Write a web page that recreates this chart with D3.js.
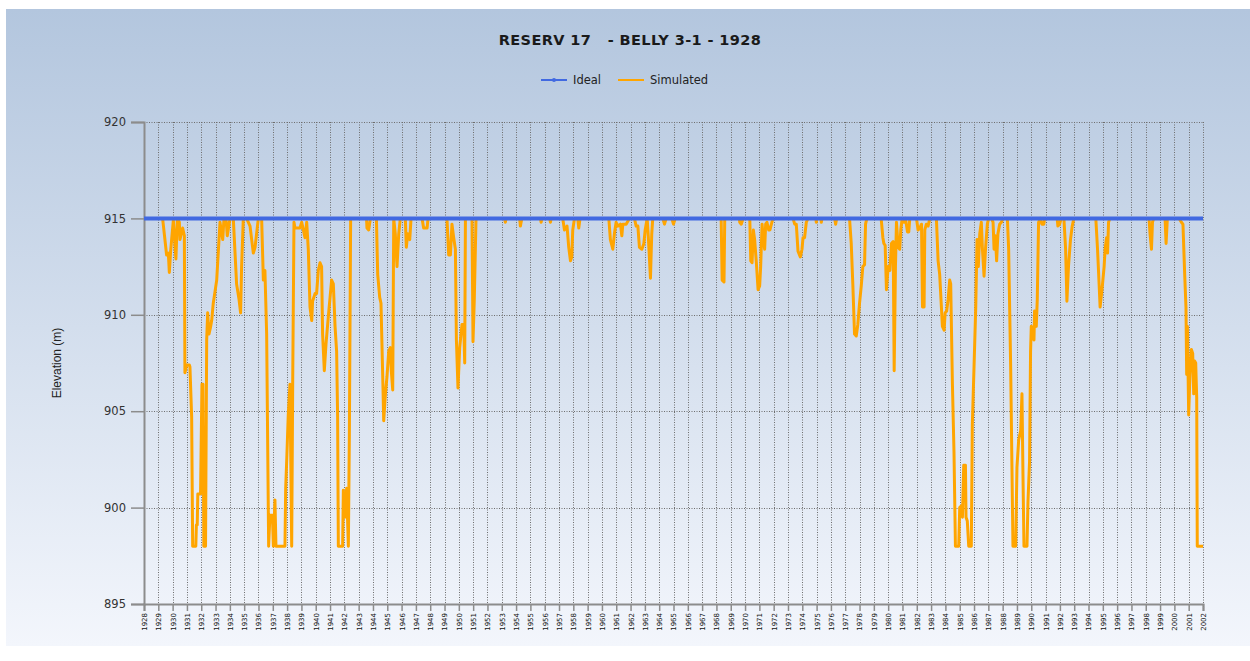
<!DOCTYPE html>
<html>
<head>
<meta charset="utf-8">
<script src="https://cdn.jsdelivr.net/npm/d3@7"></script>
<style>
  html, body { margin: 0; padding: 0; background: #ffffff; }
  svg { display: block; }
</style>
</head>
<body>
<svg id="chart" width="1250" height="661"></svg>
<script>
// ---- data -------------------------------------------------------------
const chartTitle = "RESERV 17   - BELLY 3-1 - 1928";
const seriesNames = ["Ideal", "Simulated"];
const yAxisTitle = "Elevation (m)";

// one tick label per year on the time axis
const years = d3.range(1928, 2003);
const elevationTicks = [895, 900, 905, 910, 915, 920];

// target (ideal) reservoir elevation
const idealYears = [1928, 2002];
const idealElevation = [915, 915];

// simulated reservoir elevation: [decimal year, elevation m]
const simulated = [
  [1928.00,915],[1929.30,915],[1929.58,913.1],[1929.70,913.2],[1929.77,912.2],[1929.86,913.3],[1930.05,914.9],
  [1930.23,912.9],[1930.33,915],[1930.47,914.8],[1930.51,913.9],[1930.70,914.5],[1930.82,914.1],[1930.86,907.0],
  [1930.98,907.4],[1931.17,907.4],[1931.21,907.3],[1931.33,904.7],[1931.40,898],[1931.62,898],[1931.66,899.1],
  [1931.72,899.1],[1931.76,900.7],[1931.95,900.7],[1932.05,906.4],[1932.12,906.4],[1932.18,898],[1932.30,898],
  [1932.38,908.7],[1932.45,910.1],[1932.54,909.0],[1932.66,909.4],[1932.73,909.7],[1932.84,910.6],[1933.08,911.8],
  [1933.31,914.8],[1933.50,913.9],[1933.59,915],[1933.73,915],[1933.82,914.1],[1934.01,915],[1934.24,915],
  [1934.47,911.6],[1934.64,910.8],[1934.75,910.1],[1934.82,912.5],[1934.94,915],[1935.17,915],[1935.41,914.6],
  [1935.64,913.2],[1935.76,913.5],[1935.99,915],[1936.22,915],[1936.34,911.8],[1936.45,912.3],[1936.57,909.0],
  [1936.71,898],[1936.80,899.6],[1936.97,899.6],[1937.04,898],[1937.15,900.4],[1937.22,898],[1937.85,898],
  [1937.90,901.0],[1937.97,902.4],[1938.08,904.8],[1938.20,906.4],[1938.32,898],[1938.39,906.4],[1938.48,914.8],
  [1938.55,914.5],[1938.90,914.5],[1939.02,914.8],[1939.25,914.0],[1939.37,914.8],[1939.48,913.4],[1939.60,910.4],
  [1939.72,909.7],[1939.78,910.7],[1939.95,911.1],[1940.06,911.1],[1940.18,912.3],[1940.30,912.7],[1940.41,912.5],
  [1940.48,909.0],[1940.60,907.1],[1940.72,908.5],[1940.88,909.9],[1941.11,911.8],[1941.23,911.6],[1941.35,909.4],
  [1941.46,908.1],[1941.53,904.7],[1941.58,898],[1941.88,898],[1941.93,900.9],[1942.04,899.5],[1942.16,901.0],
  [1942.28,898],[1942.35,903.8],[1942.44,915],
  [1943.55,915],[1943.58,914.5],[1943.70,914.4],[1943.82,915],[1944.24,915],[1944.33,912.1],[1944.47,910.9],
  [1944.56,910.6],[1944.70,906.2],[1944.75,904.5],[1944.87,905.9],[1944.98,906.8],[1945.10,908.1],[1945.21,908.3],
  [1945.28,907.1],[1945.38,906.1],[1945.45,915],[1945.56,914.2],[1945.68,912.5],[1945.80,914.2],[1945.91,915],
  [1946.26,915],[1946.33,913.5],[1946.43,914.2],[1946.57,913.9],[1946.66,915],[1947.43,915],[1947.54,914.5],
  [1947.78,914.5],[1947.85,915],[1949.17,915],[1949.29,913.1],[1949.41,913.1],[1949.52,914.7],[1949.64,914.0],
  [1949.76,913.4],[1949.83,908.7],[1949.94,906.2],[1950.06,908.3],[1950.22,909.5],[1950.34,909.5],[1950.41,907.5],
  [1950.46,915],[1950.92,915],[1950.99,908.6],[1951.08,910.8],[1951.20,915],[1953.20,915],[1953.25,914.8],
  [1953.30,915],[1954.25,915],[1954.30,914.6],[1954.40,915],
  [1955.70,915],[1955.75,914.8],[1955.80,915],[1956.35,915],[1956.40,914.8],[1956.45,915],[1957.26,915],
  [1957.38,914.4],[1957.56,914.6],[1957.68,913.5],[1957.80,912.8],[1957.89,913.0],[1957.96,914.4],[1958.08,915],
  [1958.31,915],[1958.38,914.5],[1958.47,915],[1960.48,915],[1960.59,913.9],[1960.76,913.4],[1960.87,914.2],
  [1960.99,914.8],[1961.11,914.6],[1961.29,914.7],[1961.39,914.1],[1961.46,914.7],[1961.69,914.7],[1961.92,915],
  [1962.27,915],[1962.39,914.6],[1962.51,914.6],[1962.62,913.5],[1962.79,913.4],[1962.93,913.7],[1963.02,914.4],
  [1963.16,915],[1963.25,913.9],[1963.39,911.9],[1963.48,914.2],[1963.55,915],[1964.25,915],[1964.37,914.7],
  [1964.49,915],[1964.88,915],[1965.00,914.7],[1965.12,915],
  [1968.33,915],[1968.40,911.8],[1968.53,911.7],[1968.58,915],[1969.60,915],[1969.63,914.8],[1969.74,914.7],
  [1969.86,915],[1970.33,915],[1970.40,912.8],[1970.49,912.7],[1970.58,914.4],[1970.67,913.9],[1970.79,912.7],
  [1970.91,911.3],[1971.02,911.5],[1971.09,912.5],[1971.19,914.7],[1971.28,913.9],[1971.37,913.4],[1971.44,914.7],
  [1971.53,914.8],[1971.65,914.4],[1971.74,914.4],[1971.84,914.7],[1971.95,915],[1973.35,915],[1973.47,914.7],
  [1973.58,914.7],[1973.70,913.3],[1973.86,913.0],[1973.98,913.4],[1974.05,914.0],[1974.16,914.0],[1974.28,914.8],
  [1974.40,915],[1974.95,915],[1974.98,914.8],[1975.02,915],[1975.30,915],[1975.33,914.8],[1975.37,915],
  [1976.26,915],[1976.33,914.7],[1976.40,915],[1977.30,915],[1977.42,913.7],[1977.53,911.6],[1977.65,909.0],
  [1977.77,908.9],[1977.88,909.5],[1978.00,910.6],[1978.12,911.5],[1978.23,912.5],[1978.35,912.6],[1978.42,914.7],
  [1978.51,915],[1979.51,915],[1979.63,914.0],[1979.70,913.7],[1979.79,913.6],[1979.88,911.3],[1980.00,912.5],
  [1980.12,912.3],[1980.23,913.7],[1980.35,913.8],[1980.42,907.1],[1980.51,912.5],[1980.58,914.8],[1980.70,913.5],
  [1980.81,913.4],[1980.88,914.4],[1980.98,915],[1981.12,914.8],[1981.21,915],[1981.35,914.3],[1981.44,914.3],
  [1981.51,915],[1981.98,915],[1982.09,914.4],[1982.21,914.5],[1982.33,914.7],[1982.40,910.4],[1982.51,910.4],
  [1982.56,914.4],[1982.67,914.7],[1982.79,914.6],[1982.91,915],
  [1983.37,915],[1983.49,912.8],[1983.60,912.1],[1983.72,910.4],[1983.79,909.4],[1983.91,909.2],[1983.98,910.1],
  [1984.09,910.2],[1984.19,910.8],[1984.30,911.8],[1984.37,911.6],[1984.49,906.4],[1984.60,902.9],[1984.70,898],
  [1984.93,898],[1985.00,900.0],[1985.12,900.1],[1985.19,899.5],[1985.28,902.2],[1985.40,902.2],[1985.44,899.5],
  [1985.53,899.3],[1985.63,898],[1985.81,898],[1985.88,904.3],[1986.00,907.3],[1986.12,910.4],[1986.21,913.9],
  [1986.30,912.5],[1986.40,914.2],[1986.51,914.8],[1986.58,913.5],[1986.70,912.0],[1986.81,913.5],[1986.93,914.7],
  [1987.02,915],[1987.21,915],[1987.33,914.8],[1987.40,913.4],[1987.49,914.1],[1987.58,912.8],[1987.67,914.2],
  [1987.79,914.7],[1987.91,914.8],[1988.02,915],
  [1988.33,915],[1988.42,913.4],[1988.56,907.3],[1988.65,902.1],[1988.72,898],[1988.91,898],[1989.00,902.1],
  [1989.12,903.5],[1989.26,904.0],[1989.35,905.9],[1989.42,901.7],[1989.49,898],[1989.70,898],[1989.77,900.3],
  [1989.88,902.4],[1989.95,908.1],[1990.00,909.4],[1990.12,908.8],[1990.19,908.7],[1990.23,910.2],[1990.35,909.4],
  [1990.42,910.8],[1990.51,914.8],[1990.63,915],[1990.74,914.7],[1990.88,914.7],[1990.93,915],
  [1991.81,915],[1991.86,914.6],[1991.98,914.7],[1992.09,915],[1992.28,915],[1992.40,913.4],[1992.49,910.7],
  [1992.60,912.5],[1992.74,913.9],[1992.86,914.6],[1992.98,915],
  [1994.51,915],[1994.63,913.4],[1994.74,911.6],[1994.81,910.4],[1994.91,911.1],[1994.98,911.6],[1995.09,912.5],
  [1995.16,913.4],[1995.26,914.0],[1995.33,913.2],[1995.40,914.8],[1995.49,915],
  [1998.23,915],[1998.30,914.2],[1998.40,913.4],[1998.47,914.8],[1998.55,915],
  [1999.35,915],[1999.42,913.7],[1999.51,915],
  [2000.33,915],[2000.49,914.8],[2000.60,914.7],[2000.72,912.1],[2000.81,910.4],[2000.86,906.9],[2000.91,909.4],
  [2001.00,904.8],[2001.09,906.9],[2001.19,908.2],[2001.28,908.0],[2001.35,905.9],[2001.42,907.6],[2001.49,907.5],
  [2001.56,905.7],[2001.60,898],[2002.00,898]
];

// ---- layout & styles --------------------------------------------------
const W = 1250, H = 661;
const plot = { left: 144, right: 1203, top: 122, bottom: 604 };
const colors = { ideal: "#4169e1", simulated: "#ffa500", axis: "#8c8c8c", grid: "#6e6e6e", text: "#1a1a1a" };
const uiFont = "'DejaVu Sans', Verdana, sans-serif";

const svg = d3.select("#chart");

// panel background with vertical gradient
const defs = svg.append("defs");
const grad = defs.append("linearGradient").attr("id", "bg").attr("x1", 0).attr("y1", 0).attr("x2", 0).attr("y2", 1);
grad.append("stop").attr("offset", "0%").attr("stop-color", "#b3c6de");
grad.append("stop").attr("offset", "100%").attr("stop-color", "#f3f6fc");
svg.append("rect").attr("x", 6).attr("y", 9).attr("width", W - 6).attr("height", 637).attr("fill", "url(#bg)");

const x = d3.scaleLinear().domain([years[0], years[years.length - 1]]).range([plot.left, plot.right]);
const y = d3.scaleLinear().domain([elevationTicks[0], elevationTicks[elevationTicks.length - 1]]).range([plot.bottom, plot.top]);

// dotted grid
const grid = svg.append("g").attr("stroke", colors.grid).attr("stroke-width", 1).attr("stroke-dasharray", "1,1.5");
grid.selectAll("line.v").data(years.slice(1)).join("line")
  .attr("x1", d => Math.round(x(d)) + 0.5).attr("x2", d => Math.round(x(d)) + 0.5)
  .attr("y1", plot.top).attr("y2", plot.bottom);
grid.selectAll("line.h").data(elevationTicks.slice(1)).join("line")
  .attr("x1", plot.left).attr("x2", plot.right)
  .attr("y1", d => Math.round(y(d)) + 0.5).attr("y2", d => Math.round(y(d)) + 0.5);

// y axis
const yAxis = svg.append("g").attr("transform", `translate(${plot.left},0)`)
  .call(d3.axisLeft(y).tickValues(elevationTicks).tickSize(13).tickPadding(5).tickFormat(d3.format("d")));
yAxis.select(".domain").attr("stroke", colors.axis).attr("stroke-width", 2);
yAxis.selectAll(".tick line").attr("stroke", colors.axis).attr("stroke-width", 1.5);
yAxis.selectAll(".tick text").attr("fill", "#333").style("font", `11.5px ${uiFont}`);

// x axis, one rotated label per year
const xAxis = svg.append("g").attr("transform", `translate(0,${plot.bottom})`)
  .call(d3.axisBottom(x).tickValues(years).tickSize(7).tickFormat(d3.format("d")));
xAxis.select(".domain").attr("stroke", colors.axis).attr("stroke-width", 2);
xAxis.selectAll(".tick line").attr("stroke", colors.axis).attr("stroke-width", 1.5);
xAxis.selectAll(".tick text")
  .attr("fill", "#111").style("font", `7px ${uiFont}`)
  .attr("text-anchor", "end")
  .attr("transform", "translate(0,9) rotate(-90)")
  .attr("x", 0).attr("y", 0).attr("dy", "0.35em");

// simulated series
const simLine = d3.line().x(d => x(d[0])).y(d => y(d[1]));
svg.append("path").datum(simulated)
  .attr("d", simLine)
  .attr("fill", "none").attr("stroke", colors.simulated).attr("stroke-width", 3)
  .attr("stroke-linejoin", "round");

// ideal series
const idealData = idealYears.map((yr, i) => [yr, idealElevation[i]]);
svg.append("path").datum(idealData)
  .attr("d", simLine)
  .attr("fill", "none").attr("stroke", colors.ideal).attr("stroke-width", 4);

// title
svg.append("text")
  .attr("x", 630).attr("y", 45)
  .attr("text-anchor", "middle")
  .attr("xml:space", "preserve")
  .style("white-space", "pre")
  .attr("fill", colors.text)
  .style("font", `bold 14.5px ${uiFont}`)
  .style("letter-spacing", "0.4px")
  .text(chartTitle);

// legend
const legend = svg.append("g").style("font", `11.5px ${uiFont}`).attr("fill", "#222");
const legendItems = [
  { name: seriesNames[0], color: colors.ideal, x0: 541, marker: true },
  { name: seriesNames[1], color: colors.simulated, x0: 618, marker: false }
];
legendItems.forEach(it => {
  legend.append("line").attr("x1", it.x0).attr("x2", it.x0 + 26).attr("y1", 80).attr("y2", 80)
    .attr("stroke", it.color).attr("stroke-width", 2);
  if (it.marker) legend.append("circle").attr("cx", it.x0 + 13).attr("cy", 80).attr("r", 2).attr("fill", it.color);
  legend.append("text").attr("x", it.x0 + 32).attr("y", 84).text(it.name);
});

// y axis title
svg.append("text")
  .attr("transform", `translate(61,${(plot.top + plot.bottom) / 2}) rotate(-90)`)
  .attr("text-anchor", "middle")
  .attr("fill", "#222")
  .style("font", "12px 'Liberation Sans', Arial, sans-serif")
  .text(yAxisTitle);
</script>
</body>
</html>
